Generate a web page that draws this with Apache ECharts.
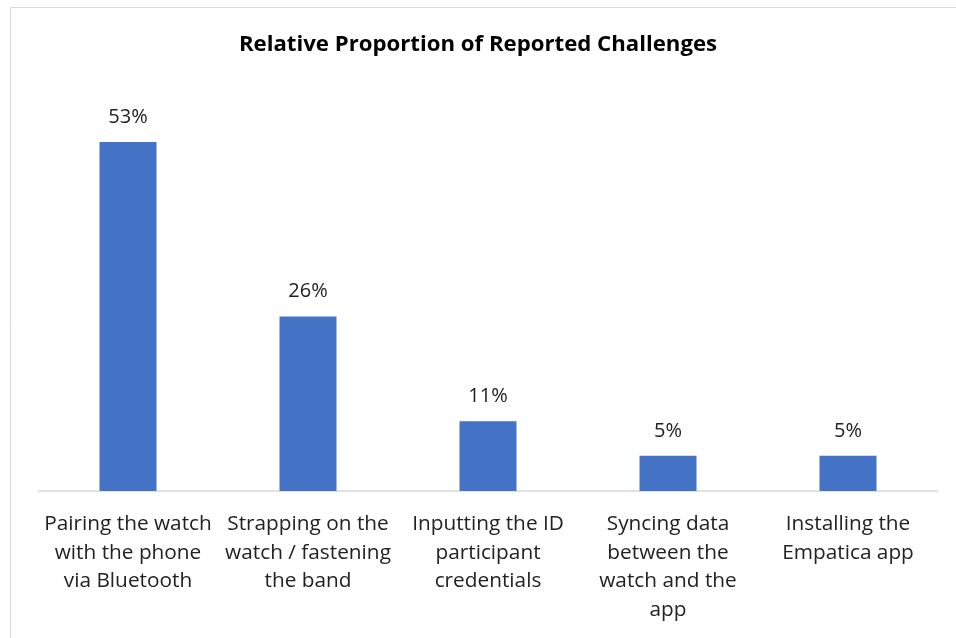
<!DOCTYPE html>
<html><head><meta charset="utf-8">
<script src="https://cdn.jsdelivr.net/npm/echarts@6/dist/echarts.min.js"></script>
<style>html,body{margin:0;padding:0;background:#fff}#c{width:956px;height:638px}</style>
</head><body><div id="c"></div>
<script>
const categories = [
  "Pairing the watch\nwith the phone\nvia Bluetooth",
  "Strapping on the\nwatch / fastening\nthe band",
  "Inputting the ID\nparticipant\ncredentials",
  "Syncing data\nbetween the\nwatch and the\napp",
  "Installing the\nEmpatica app"
];
const values = [52.6, 26.3, 10.5, 5.3, 5.3];
const titleText = "Relative Proportion of Reported Challenges";
const FONT = "'Open Sans', Lato, sans-serif";

const chart = echarts.init(document.getElementById('c'));
chart.setOption({
  animation: false,
  backgroundColor: '#fff',
  graphic: [{
    type: 'rect', silent: true, z: -10,
    shape: { x: 10.5, y: 7.5, width: 1000, height: 700 },
    style: { fill: 'none', stroke: '#d9d9d9', lineWidth: 1 }
  }],
  title: {
    text: titleText, left: 'center', top: 29,
    textStyle: { fontFamily: FONT, fontSize: 22.2, fontWeight: 'bold', color: '#000' }
  },
  grid: { left: 38, right: 18, top: 93, bottom: 147, containLabel: false },
  xAxis: {
    type: 'category', data: categories,
    axisLine: { show: true, lineStyle: { color: '#d9d9d9', width: 1.5 } },
    axisTick: { show: false },
    axisLabel: { interval: 0, margin: 19, fontFamily: FONT, fontSize: 20.8, color: '#222', lineHeight: 28.5, align: 'center' }
  },
  yAxis: {
    type: 'value', min: 0, max: 60, show: false,
    splitLine: { show: false }
  },
  series: [{
    type: 'bar', data: values, barWidth: 57,
    itemStyle: { color: '#4472C4' },
    label: {
      show: true, position: 'top', distance: 15,
      formatter: p => Math.round(p.value) + '%',
      fontFamily: FONT, fontSize: 20, color: '#222'
    }
  }]
});
</script></body></html>
